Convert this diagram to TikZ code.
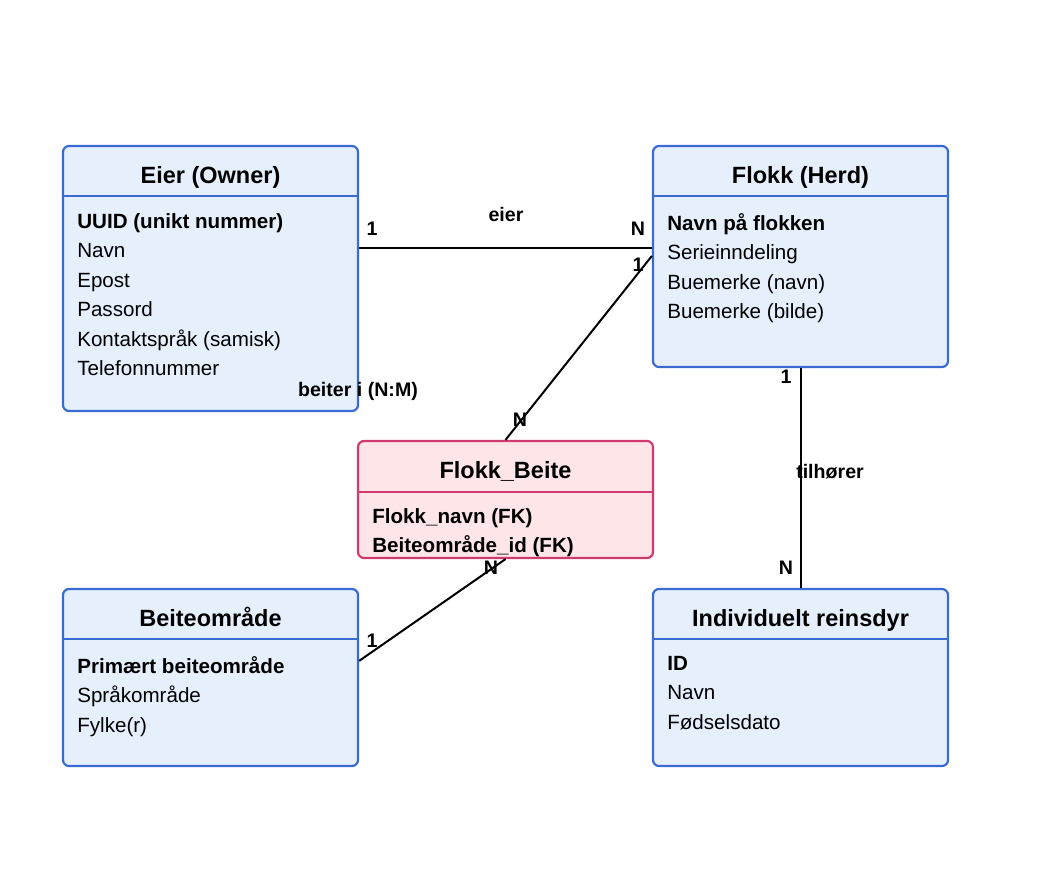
\documentclass[tikz,border=0pt]{standalone}
\usepackage{fontspec}
\setmainfont{Liberation Sans}
\usetikzlibrary{calc,positioning}

\definecolor{entline}{HTML}{3A6BD3}
\definecolor{entfill}{HTML}{E6F0FD}
\definecolor{linkline}{HTML}{D13A6E}
\definecolor{linkfill}{HTML}{FEE5E8}

\begin{document}
\begin{tikzpicture}[x=1pt,y=-1pt,thick,
    entity/.style={draw=entline,fill=entfill,line width=2.2pt,rounded corners=6pt,minimum width=295pt,inner sep=0pt},
    linkent/.style={entity,draw=linkline,fill=linkfill},
    title/.style={anchor=base,inner sep=0pt,font=\fontsize{23.5}{28}\selectfont\bfseries},
    attrs/.style={anchor=north west,inner sep=0pt,align=left,font=\fontsize{20.6}{29.5}\selectfont},
    sep/.style={draw=entline,line width=1.2pt},
    rel/.style={draw=black,line width=2pt},
    card/.style={inner sep=0pt,font=\fontsize{19.6}{22}\selectfont\bfseries}]

    \useasboundingbox (0,0) rectangle (1056,873);

    % entities
    \node[entity,minimum height=265pt] (eier)   at (210.5,278.5) {};
    \node[entity,minimum height=221pt] (flokk)  at (800.5,256.5) {};
    \node[linkent,minimum height=117pt] (fb)    at (505.5,499.5) {};
    \node[entity,minimum height=177pt] (beite)  at (210.5,677.5) {};
    \node[entity,minimum height=177pt] (rein)   at (800.5,677.5) {};

    % titles
    \node[title] (eier-t)  at ($(eier.north)+(0,39)$)  {Eier (Owner)};
    \node[title] (flokk-t) at ($(flokk.north)+(0,39)$) {Flokk (Herd)};
    \node[title] (fb-t)    at ($(fb.north)+(0,39)$)    {Flokk\_Beite};
    \node[title] (beite-t) at ($(beite.north)+(0,39)$) {Beiteområde};
    \node[title] (rein-t)  at ($(rein.north)+(0,39)$)  {Individuelt reinsdyr};

    % header lines
    \draw[sep] ($(eier.north west)+(0,51)$) -- ($(eier.north east)+(0,51)$);
    \draw[sep] ($(flokk.north west)+(0,51)$) -- ($(flokk.north east)+(0,51)$);
    \draw[sep,draw=linkline] ($(fb.north west)+(0,52)$) -- ($(fb.north east)+(0,52)$);
    \draw[sep] ($(beite.north west)+(0,51)$) -- ($(beite.north east)+(0,51)$);
    \draw[sep] ($(rein.north west)+(0,51)$) -- ($(rein.north east)+(0,51)$);

    % attributes
    \node[attrs] (eier-a) at ($(eier.north west)+(15,68)$)
        {\textbf{UUID (unikt nummer)}\\Navn\\Epost\\Passord\\Kontaktspråk (samisk)\\Telefonnummer};
    \node[attrs] (flokk-a) at ($(flokk.north west)+(15,68)$)
        {\textbf{Navn på flokken}\\Serieinndeling\\Buemerke (navn)\\Buemerke (bilde)};
    \node[attrs] (fb-a) at ($(fb.north west)+(15,68)$)
        {\textbf{Flokk\_navn (FK)}\\\textbf{Beiteområde\_id (FK)}};
    \node[attrs] (beite-a) at ($(beite.north west)+(15,68)$)
        {\textbf{Primært beiteområde}\\Språkområde\\Fylke(r)};
    \node[attrs] (rein-a) at ($(rein.north west)+(15,68)$)
        {\textbf{ID}\\Navn\\Fødselsdato};

    % relations
    \draw[rel] ($(eier.north east)+(0,103)$) -- ($(flokk.north west)+(0,103)$);
    \draw[rel] ($(flokk.north west)+(0,111)$) -- (fb.north);
    \draw[rel] (fb.south) -- ($(beite.north east)+(0,73)$);
    \draw[rel] (flokk.south) -- (rein.north);

    % cardinalities
    \node[card] (c1) at (372,229) {1};
    \node[card] (c2) at (638,229) {N};
    \node[card] (l1) at (506,214) {eier};
    \node[card] (c3) at (638,265) {1};
    \node[card] (c4) at (520,420) {N};
    \node[card] (l2) at (358,391) {beiter i (N:M)};
    \node[card] (c5) at (491,568) {N};
    \node[card] (c6) at (372,641) {1};
    \node[card] (c7) at (786,377) {1};
    \node[card] (c8) at (786,568) {N};
    \node[card] (l3) at (830,472) {tilhører};

\end{tikzpicture}
\end{document}
